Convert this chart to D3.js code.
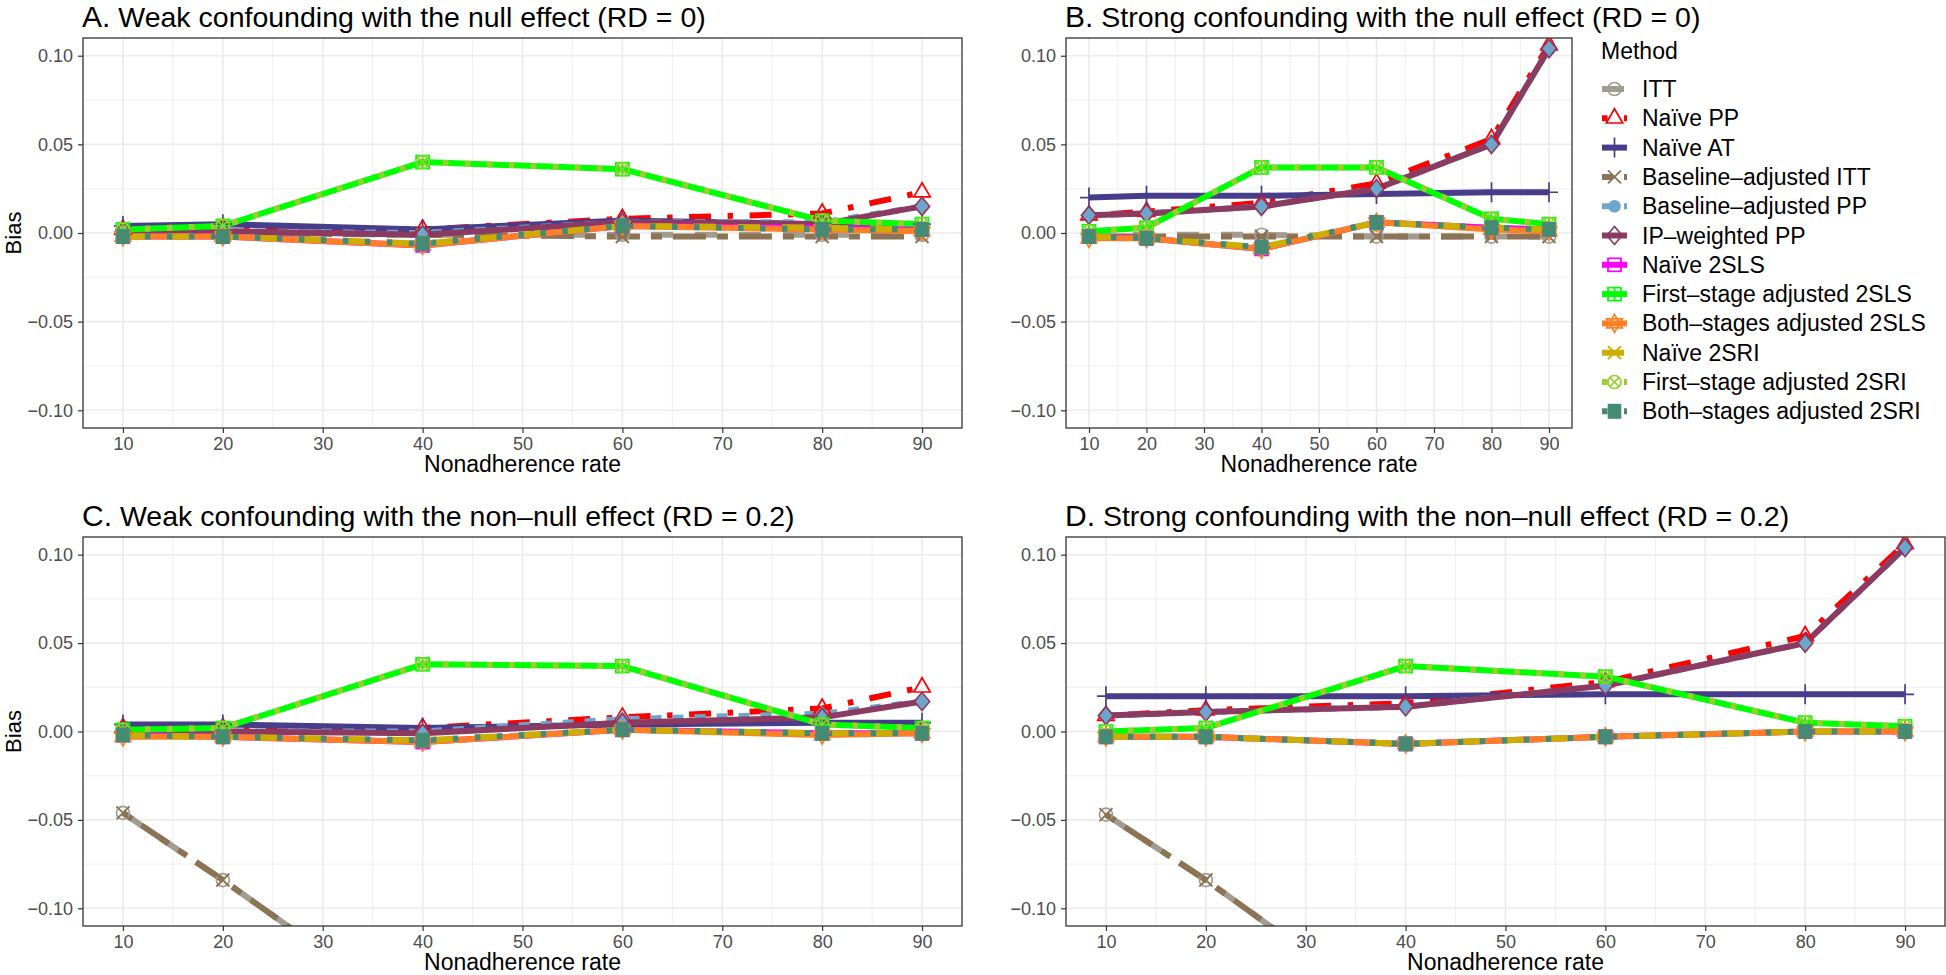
<!DOCTYPE html>
<html>
<head>
<meta charset="utf-8">
<script src="https://cdn.jsdelivr.net/npm/d3@7"></script>
<style>
  html, body { margin: 0; padding: 0; background: #ffffff; }
  svg { display: block; font-family: "Liberation Sans", Arial, Helvetica, sans-serif; }
</style>
</head>
<body>
<script>
// ---------------- DATA ----------------
const nonadherence = [10, 20, 40, 60, 80, 90];

const methods = [
  "ITT", "Naïve PP", "Naïve AT", "Baseline–adjusted ITT", "Baseline–adjusted PP",
  "IP–weighted PP", "Naïve 2SLS", "First–stage adjusted 2SLS", "Both–stages adjusted 2SLS",
  "Naïve 2SRI", "First–stage adjusted 2SRI", "Both–stages adjusted 2SRI"
];

const methodColors = [
  "#A19B90", "#FF0000", "#483D8B", "#8B7355", "#6CA6CD", "#8B3A62",
  "#FF00FF", "#00FF00", "#FF7F24", "#CDAD00", "#9ACD32", "#458B74"
];

const methodShapes = [
  "circleOpen", "triangleOpen", "plus", "cross", "circleFilled", "diamondOpen",
  "squareOpen", "squarePlus", "star", "cross", "circleCross", "squareFilled"
];

const methodDashes = [
  "22,22", "5.5,16.5,22,16.5", null, "11,11,33,11", "11,11", null,
  null, null, null, "22,22", "5.5,16.5", "5.5,16.5"
];

const panelTitleLetters = ["A.", "B.", "C.", "D."];
const panelTitles = [
  "Weak confounding with the null effect (RD = 0)",
  "Strong confounding with the null effect (RD = 0)",
  "Weak confounding with the non–null effect (RD = 0.2)",
  "Strong confounding with the non–null effect (RD = 0.2)"
];

const xTicks = [10, 20, 30, 40, 50, 60, 70, 80, 90];
const yTicks = [-0.10, -0.05, 0.00, 0.05, 0.10];
const yTickLabels = ["−0.10", "−0.05", "0.00", "0.05", "0.10"];
const xAxisTitle = "Nonadherence rate";
const yAxisTitle = "Bias";
const legendTitle = "Method";

// Bias by method (rows follow `methods`), columns follow `nonadherence`
const biasA = [
  [ 0.000,  0.000, -0.001, -0.001, -0.001, -0.001],
  [ 0.002,  0.003,  0.002,  0.008,  0.011,  0.023],
  [ 0.004,  0.005,  0.002,  0.007,  0.005,  0.005],
  [ 0.000,  0.000, -0.001, -0.002, -0.002, -0.002],
  [ 0.001,  0.001,  0.000,  0.006,  0.006,  0.015],
  [ 0.001,  0.001, -0.001,  0.006,  0.005,  0.015],
  [-0.002, -0.002, -0.007,  0.004,  0.003,  0.002],
  [ 0.002,  0.004,  0.040,  0.036,  0.007,  0.005],
  [-0.002, -0.002, -0.007,  0.004,  0.002,  0.001],
  [-0.002, -0.002, -0.006,  0.004,  0.003,  0.002],
  [ 0.002,  0.004,  0.040,  0.036,  0.007,  0.005],
  [-0.002, -0.002, -0.006,  0.004,  0.002,  0.002]
];

const biasB = [
  [-0.001, -0.001, -0.001, -0.002, -0.002, -0.002],
  [ 0.010,  0.012,  0.017,  0.028,  0.053,  0.106],
  [ 0.020,  0.021,  0.021,  0.022,  0.023,  0.023],
  [-0.002, -0.002, -0.002, -0.002, -0.002, -0.002],
  [ 0.010,  0.011,  0.015,  0.025,  0.050,  0.104],
  [ 0.010,  0.011,  0.015,  0.025,  0.050,  0.104],
  [-0.002, -0.003, -0.009,  0.006,  0.003,  0.002],
  [ 0.001,  0.003,  0.037,  0.037,  0.008,  0.005],
  [-0.003, -0.003, -0.009,  0.006,  0.002,  0.001],
  [-0.002, -0.003, -0.008,  0.006,  0.003,  0.002],
  [ 0.001,  0.003,  0.037,  0.037,  0.008,  0.005],
  [-0.002, -0.003, -0.008,  0.006,  0.003,  0.002]
];

const biasC = [
  [-0.046, -0.084, -0.164, -0.240, -0.312, -0.350],
  [ 0.002,  0.002,  0.002,  0.008,  0.013,  0.025],
  [ 0.004,  0.004,  0.002,  0.004,  0.005,  0.005],
  [-0.046, -0.084, -0.164, -0.240, -0.312, -0.350],
  [ 0.000,  0.000,  0.000,  0.007,  0.010,  0.017],
  [ 0.000,  0.000, -0.001,  0.005,  0.008,  0.017],
  [-0.002, -0.003, -0.006,  0.001, -0.001, -0.001],
  [ 0.001,  0.002,  0.038,  0.037,  0.004,  0.002],
  [-0.003, -0.003, -0.006,  0.001, -0.002, -0.001],
  [-0.002, -0.003, -0.005,  0.001, -0.001, -0.001],
  [ 0.001,  0.002,  0.038,  0.037,  0.004,  0.002],
  [-0.002, -0.003, -0.005,  0.001, -0.001, -0.001]
];

const biasD = [
  [-0.047, -0.084, -0.165, -0.245, -0.320, -0.360],
  [ 0.009,  0.012,  0.016,  0.028,  0.054,  0.106],
  [ 0.020,  0.020,  0.020,  0.021,  0.021,  0.021],
  [-0.047, -0.084, -0.165, -0.245, -0.320, -0.360],
  [ 0.009,  0.011,  0.014,  0.026,  0.050,  0.104],
  [ 0.009,  0.011,  0.014,  0.026,  0.050,  0.104],
  [-0.003, -0.003, -0.007, -0.003,  0.000,  0.000],
  [ 0.000,  0.002,  0.037,  0.031,  0.005,  0.003],
  [-0.003, -0.003, -0.007, -0.003,  0.000,  0.000],
  [-0.003, -0.003, -0.007, -0.003,  0.000,  0.000],
  [ 0.000,  0.002,  0.037,  0.031,  0.005,  0.003],
  [-0.003, -0.003, -0.007, -0.003,  0.000,  0.000]
];

const panelData = [biasA, biasB, biasC, biasD];

// ---------------- LAYOUT ----------------
const W = 1946, H = 975;
const panels = [
  { x0: 83,   x1: 962,  y0: 38,  y1: 428, yTitle: true },
  { x0: 1066, x1: 1572, y0: 38,  y1: 428, yTitle: false },
  { x0: 83,   x1: 962,  y0: 537, y1: 926, yTitle: true },
  { x0: 1066, x1: 1945, y0: 537, y1: 926, yTitle: false }
];

const svg = d3.select("body").append("svg")
  .attr("width", W).attr("height", H)
  .attr("viewBox", `0 0 ${W} ${H}`);
svg.append("rect").attr("width", W).attr("height", H).attr("fill", "#ffffff");

// shape drawer
function drawShape(g, shape, color, plot) {
  const sw = 1.7;
  switch (shape) {
    case "circleOpen":
      g.append("circle").attr("r", 6.5).attr("fill", "none").attr("stroke", color).attr("stroke-width", sw);
      break;
    case "triangleOpen":
      g.append("path").attr("d", "M0,-9.5L8.2,4.7L-8.2,4.7Z").attr("fill", "none").attr("stroke", color).attr("stroke-width", sw);
      break;
    case "plus":
      g.append("path").attr("d", "M-9,0H9M0,-10V10").attr("stroke", color).attr("stroke-width", sw).attr("fill", "none");
      break;
    case "cross":
      g.append("path").attr("d", "M-6.5,-6.5L6.5,6.5M-6.5,6.5L6.5,-6.5").attr("stroke", color).attr("stroke-width", sw + 0.2).attr("fill", "none");
      break;
    case "circleFilled":
      if (plot) {
        g.append("path").attr("d", "M0,-8L6.6,0L0,8L-6.6,0Z").attr("fill", color);
      } else {
        g.append("circle").attr("r", 6.3).attr("fill", color);
      }
      break;
    case "diamondOpen":
      g.append("path").attr("d", "M0,-9L7.6,0L0,9L-7.6,0Z").attr("fill", "none").attr("stroke", color).attr("stroke-width", sw);
      break;
    case "squareOpen":
      g.append("rect").attr("x", -6.5).attr("y", -6.5).attr("width", 13).attr("height", 13)
        .attr("fill", "none").attr("stroke", color).attr("stroke-width", sw);
      break;
    case "squarePlus":
      g.append("rect").attr("x", -6.5).attr("y", -6.5).attr("width", 13).attr("height", 13)
        .attr("fill", "none").attr("stroke", color).attr("stroke-width", sw);
      g.append("path").attr("d", "M-6.5,0H6.5M0,-6.5V6.5").attr("stroke", color).attr("stroke-width", sw).attr("fill", "none");
      break;
    case "star":
      g.append("path").attr("d", "M0,-9L7.8,4.5L-7.8,4.5ZM0,9L7.8,-4.5L-7.8,-4.5Z")
        .attr("fill", "none").attr("stroke", color).attr("stroke-width", sw);
      break;
    case "circleCross":
      g.append("circle").attr("r", 6.5).attr("fill", "none").attr("stroke", color).attr("stroke-width", sw);
      g.append("path").attr("d", "M-4.6,-4.6L4.6,4.6M-4.6,4.6L4.6,-4.6").attr("stroke", color).attr("stroke-width", sw).attr("fill", "none");
      break;
    case "squareFilled":
      g.append("rect").attr("x", -6.8).attr("y", -7.5).attr("width", 13.6).attr("height", 15).attr("fill", color);
      break;
  }
  return g;
}

const lineWidth = 6;
const defs = svg.append("defs");

panels.forEach((p, pi) => {
  const data = panelData[pi];
  const x = d3.scaleLinear().domain([6, 94]).range([p.x0, p.x1]);
  const y = d3.scaleLinear().domain([-0.11, 0.11]).range([p.y1, p.y0]);

  const clipId = "clip" + pi;
  defs.append("clipPath").attr("id", clipId)
    .append("rect").attr("x", p.x0).attr("y", p.y0).attr("width", p.x1 - p.x0).attr("height", p.y1 - p.y0);

  const g = svg.append("g");

  // grid: minor
  const minorX = [15, 25, 35, 45, 55, 65, 75, 85];
  const minorY = [-0.075, -0.025, 0.025, 0.075];
  const grid = g.append("g");
  grid.selectAll("line.mx").data(minorX).join("line")
    .attr("x1", d => x(d)).attr("x2", d => x(d)).attr("y1", p.y0).attr("y2", p.y1)
    .attr("stroke", "#EBEBEB").attr("stroke-width", 0.8);
  grid.selectAll("line.my").data(minorY).join("line")
    .attr("y1", d => y(d)).attr("y2", d => y(d)).attr("x1", p.x0).attr("x2", p.x1)
    .attr("stroke", "#EBEBEB").attr("stroke-width", 0.8);
  // grid: major
  grid.selectAll("line.Mx").data(xTicks).join("line")
    .attr("x1", d => x(d)).attr("x2", d => x(d)).attr("y1", p.y0).attr("y2", p.y1)
    .attr("stroke", "#EBEBEB").attr("stroke-width", 1.6);
  grid.selectAll("line.My").data(yTicks).join("line")
    .attr("y1", d => y(d)).attr("y2", d => y(d)).attr("x1", p.x0).attr("x2", p.x1)
    .attr("stroke", "#EBEBEB").attr("stroke-width", 1.6);

  // series: all lines first, then all points
  const plotG = g.append("g").attr("clip-path", `url(#${clipId})`);
  const line = d3.line().x((d, i) => x(nonadherence[i])).y(d => y(d));
  data.forEach((vals, mi) => {
    plotG.append("path")
      .attr("d", line(vals))
      .attr("fill", "none")
      .attr("stroke", methodColors[mi])
      .attr("stroke-width", lineWidth)
      .attr("stroke-dasharray", methodDashes[mi])
      .attr("stroke-linejoin", "round");
  });
  data.forEach((vals, mi) => {
    vals.forEach((v, i) => {
      const pg = plotG.append("g").attr("transform", `translate(${x(nonadherence[i])},${y(v)})`);
      drawShape(pg, methodShapes[mi], methodColors[mi], true);
    });
  });

  // border
  g.append("rect").attr("x", p.x0).attr("y", p.y0)
    .attr("width", p.x1 - p.x0).attr("height", p.y1 - p.y0)
    .attr("fill", "none").attr("stroke", "#333333").attr("stroke-width", 1.3);

  // axes
  const yAxis = d3.axisLeft(y).tickValues(yTicks).tickFormat((d, i) => yTickLabels[i])
    .tickSize(5).tickPadding(5);
  const ya = g.append("g").attr("transform", `translate(${p.x0},0)`).call(yAxis);
  ya.select(".domain").remove();
  ya.selectAll(".tick line").attr("stroke", "#333333").attr("stroke-width", 1.2);
  ya.selectAll(".tick text").attr("fill", "#4D4D4D").style("font-size", "18px")
    .style("font-family", "'Liberation Sans', Arial, sans-serif");

  const xAxis = d3.axisBottom(x).tickValues(xTicks).tickFormat(d3.format("d"))
    .tickSize(5).tickPadding(4);
  const xa = g.append("g").attr("transform", `translate(0,${p.y1})`).call(xAxis);
  xa.select(".domain").remove();
  xa.selectAll(".tick line").attr("stroke", "#333333").attr("stroke-width", 1.2);
  xa.selectAll(".tick text").attr("fill", "#4D4D4D").style("font-size", "18px")
    .style("font-family", "'Liberation Sans', Arial, sans-serif");

  // x axis title
  g.append("text").attr("x", (p.x0 + p.x1) / 2).attr("y", p.y1 + 43.5)
    .attr("text-anchor", "middle").style("font-size", "23px").attr("fill", "#000")
    .text(xAxisTitle);

  // y axis title
  if (p.yTitle) {
    g.append("text").attr("transform", `translate(21,${(p.y0 + p.y1) / 2}) rotate(-90)`)
      .attr("text-anchor", "middle").style("font-size", "22px").attr("fill", "#000")
      .text(yAxisTitle);
  }

  // panel title
  const t = g.append("text").attr("x", p.x0 - 1).attr("y", p.y0 - 11).attr("fill", "#000");
  t.append("tspan").style("font-size", "30px").text(panelTitleLetters[pi]);
  t.append("tspan").style("font-size", "28.5px").text(" " + panelTitles[pi]);
});

// ---------------- LEGEND ----------------
const lg = svg.append("g");
lg.append("text").attr("x", 1601).attr("y", 59).style("font-size", "23px").attr("fill", "#000").text(legendTitle);
methods.forEach((m, i) => {
  const cy = 89 + i * 29.3;
  lg.append("line").attr("x1", 1602).attr("x2", 1627).attr("y1", cy).attr("y2", cy)
    .attr("stroke", methodColors[i]).attr("stroke-width", lineWidth)
    .attr("stroke-dasharray", methodDashes[i]);
  const sg = lg.append("g").attr("transform", `translate(1614.5,${cy})`);
  drawShape(sg, methodShapes[i], methodColors[i], false);
  lg.append("text").attr("x", 1642).attr("y", cy + 8).style("font-size", "23px").attr("fill", "#000").text(m);
});
</script>
</body>
</html>
